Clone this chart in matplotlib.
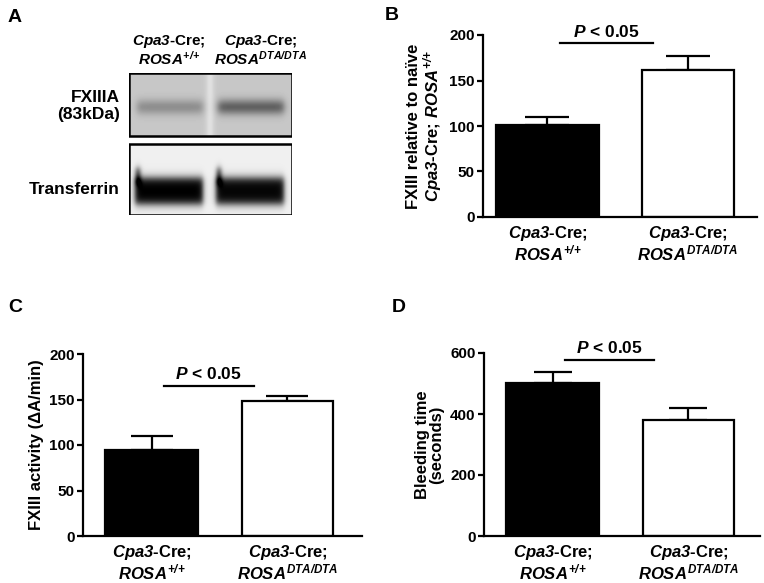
import numpy as np
import matplotlib
matplotlib.use("Agg")
import matplotlib.pyplot as plt
from matplotlib.patches import Rectangle

plt.rcParams['font.family'] = ['Liberation Sans', 'DejaVu Sans']
plt.rcParams['font.weight'] = 'bold'
plt.rcParams['mathtext.fontset'] = 'custom'
plt.rcParams['mathtext.rm'] = 'Liberation Sans:bold:italic'
plt.rcParams['mathtext.it'] = 'Liberation Sans:bold:italic'
plt.rcParams['mathtext.bf'] = 'Liberation Sans:bold'
plt.rcParams['mathtext.sf'] = 'Liberation Sans:bold'

# ---------------- data ----------------
groups = [r"$\mathit{Cpa3}$-Cre;" + "\n" + r"$\mathit{ROSA}^{{+}/{+}}$",
          r"$\mathit{Cpa3}$-Cre;" + "\n" + r"$\mathit{ROSA}^{\mathit{DTA/DTA}}$"]

fxiii_rel_mean = [101, 162]
fxiii_rel_err = [9, 15]

fxiii_act_mean = [94, 148]
fxiii_act_err = [16, 6]

bleed_mean = [501, 381]
bleed_err = [38, 39]

p_text = r"$\mathit{P}$ < 0.05"
p_level_b = 191
p_level_c = 165
p_level_d = 577

# western blot band intensities (relative darkness) per lane
lane_labels = groups
fxiiia_band = [0.22, 0.40]
transferrin_band = [0.95, 0.93]

bar_colors = ['black', 'white']

W, H = 764, 583
fig = plt.figure(figsize=(W / 100, H / 100), dpi=100)


def ax_px(l, t, r, b):
    return fig.add_axes([l / W, 1 - b / H, (r - l) / W, (b - t) / H])


def bar_panel(ax, means, errs, ylim, yticks, ylabel, xlim, widths, p_level, capsize):
    x = np.arange(len(means))
    ax.errorbar(x, means, yerr=[[0] * len(errs), errs], fmt='none', ecolor='black',
                elinewidth=1.6, capsize=capsize, capthick=1.6, zorder=1)
    ax.bar(x, means, width=widths, color=bar_colors, edgecolor='black', linewidth=1.6, zorder=2)
    ax.set_xlim(*xlim)
    ax.set_ylim(*ylim)
    ax.set_yticks(yticks)
    ax.set_xticks(x)
    ax.set_xticklabels(groups, fontsize=12, linespacing=1.05)
    ax.tick_params(axis='x', length=0, pad=5)
    ax.tick_params(axis='y', length=4, width=1.6, labelsize=11, pad=2)
    for s in ['top', 'right']:
        ax.spines[s].set_visible(False)
    for s in ['left', 'bottom']:
        ax.spines[s].set_linewidth(1.6)
    ax.set_ylabel(ylabel, fontsize=12, fontweight='bold', linespacing=1.0)
    ax.plot([x[0] + 0.09, x[1] - 0.25], [p_level, p_level], color='black', lw=1.6,
            clip_on=False)
    ax.text((x[0] + 0.09 + x[1] - 0.25) / 2, p_level + (ylim[1] - ylim[0]) * 0.02, p_text,
            ha='center', va='bottom', fontsize=12.5, clip_on=False)


# Panel B
axB = ax_px(483, 35, 757, 217)
bar_panel(axB, fxiii_rel_mean, fxiii_rel_err, (0, 200), [0, 50, 100, 150, 200],
          "FXIII relative to naïve\n" + r"$\mathit{Cpa3}$-Cre; $\mathit{ROSA}^{{+}/{+}}$",
          (-0.459, 1.491), [0.73, 0.655], p_level_b, 16)

# Panel C
axC = ax_px(83, 354, 362, 536)
bar_panel(axC, fxiii_act_mean, fxiii_act_err, (0, 200), [0, 50, 100, 150, 200],
          "FXIII activity (ΔA/min)", (-0.504, 1.548), [0.68, 0.67], p_level_c, 15)

# Panel D
axD = ax_px(484, 353, 760, 536)
bar_panel(axD, bleed_mean, bleed_err, (0, 600), [0, 200, 400, 600],
          "Bleeding time\n(seconds)", (-0.504, 1.526), [0.68, 0.67], p_level_d, 14)

# Panel A: western blot illustration
axA = ax_px(129, 73, 292, 215)
axA.set_xlim(0, 163)
axA.set_ylim(142, 0)
axA.axis('off')

xs = np.arange(163) + 0.5
lane_x = [(8, 74), (89, 155)]


def lane_mask(x0, x1, soft=2.0):
    return (1 / (1 + np.exp(-(xs - x0) / soft))) * (1 / (1 + np.exp((xs - x1) / soft)))


# top blot (FXIIIA)
yt = np.arange(63) + 0.5
top = np.full((63, 163), 0.78)
for (x0, x1), inten in zip(lane_x, fxiiia_band):
    prof = np.exp(-0.5 * ((yt - 34) / 5.5) ** 2)
    top -= inten * np.outer(prof, lane_mask(x0, x1))
gap = np.exp(-0.5 * ((xs - 81) / 3.0) ** 2)
top += 0.10 * gap[None, :]
top = np.clip(top, 0, 1)
axA.imshow(top, cmap='gray', vmin=0, vmax=1, extent=(0, 163, 63, 0), aspect='auto',
           interpolation='bilinear')
axA.add_patch(Rectangle((0, 0), 163, 63, fill=False, lw=1.8, ec='black'))

# bottom blot (Transferrin)
yb = np.arange(71) + 0.5
bot = np.full((71, 163), 0.94)
for (x0, x1), inten in zip(lane_x, transferrin_band):
    prof = 1 / (1 + np.exp(-(yb - 34) / 2.5)) * 1 / (1 + np.exp((yb - 60) / 2.5))
    m = lane_mask(x0 - 2, x1, 1.5)
    bot -= inten * np.outer(prof, m)
    edge = np.exp(-0.5 * ((xs - (x0 + 1)) / 2.5) ** 2)
    prof2 = 1 / (1 + np.exp(-(yb - 24) / 2.0)) * 1 / (1 + np.exp((yb - 40) / 2.0))
    bot -= 0.5 * np.outer(prof2, edge)
bot = np.clip(bot, 0, 1)
axA.imshow(bot, cmap='gray', vmin=0, vmax=1, extent=(0, 163, 142, 71), aspect='auto',
           interpolation='bilinear')
axA.add_patch(Rectangle((0, 71), 163, 71, fill=False, lw=1.8, ec='black'))

# blot labels
fig.text(120 / W, 1 - 106 / H, "FXIIIA\n(83kDa)", ha='right', va='center', fontsize=12.5,
         linespacing=1.2)
fig.text(120 / W, 1 - 190 / H, "Transferrin", ha='right', va='center', fontsize=12.5)
fig.text(169 / W, 1 - 50 / H, lane_labels[0], ha='center', va='center', fontsize=11,
         linespacing=1.0)
fig.text(261 / W, 1 - 50 / H, lane_labels[1], ha='center', va='center', fontsize=11,
         linespacing=1.0)

# panel letters
for letter, (px, py) in {'A': (8, 18), 'B': (385, 16), 'C': (8, 307), 'D': (392, 307)}.items():
    fig.text(px / W, 1 - py / H, letter, ha='left', va='center', fontsize=14,
             fontweight='bold')

fig.savefig('out.png', dpi=100)
